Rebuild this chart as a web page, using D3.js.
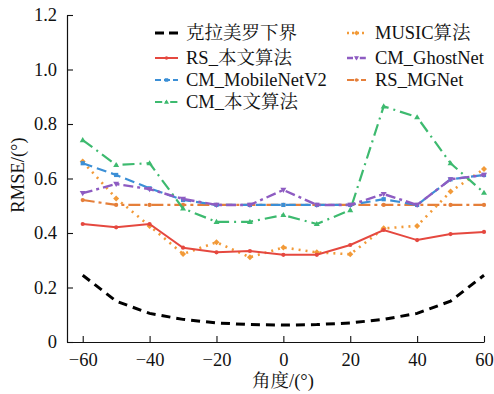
<!DOCTYPE html>
<html><head><meta charset="utf-8">
<script src="https://cdn.jsdelivr.net/npm/d3@7"></script>
<style>
body{margin:0;background:#fff}
text{font-family:"Liberation Serif","Times New Roman","Noto Serif CJK SC","Noto Sans CJK SC",serif;fill:#111}
</style></head>
<body><svg id="c" width="494" height="394"></svg>
<script>
const angles = [-60,-50,-40,-30,-20,-10,0,10,20,30,40,50,60];
const xTicks = [-60,-40,-20,0,20,40,60];
const yTicks = [0,0.2,0.4,0.6,0.8,1.0,1.2];
const yTickLabels = ["0","0.2","0.4","0.6","0.8","1.0","1.2"];
const crb      = [0.245,0.15,0.105,0.083,0.07,0.064,0.062,0.064,0.07,0.083,0.105,0.15,0.245];
const rsOurs   = [0.433,0.421,0.433,0.346,0.329,0.334,0.320,0.320,0.356,0.411,0.374,0.396,0.404];
const cmMobile = [0.656,0.613,0.564,0.521,0.503,0.503,0.503,0.503,0.503,0.524,0.503,0.597,0.613];
const cmOurs   = [0.741,0.650,0.656,0.490,0.441,0.441,0.466,0.433,0.484,0.865,0.825,0.656,0.548];
const music    = [0.662,0.527,0.426,0.323,0.366,0.311,0.347,0.329,0.322,0.417,0.426,0.552,0.635];
const cmGhost  = [0.546,0.580,0.561,0.525,0.503,0.503,0.558,0.503,0.503,0.543,0.503,0.597,0.613];
const rsMG     = [0.521,0.503,0.503,0.503,0.503,0.503,0.503,0.503,0.503,0.503,0.503,0.503,0.503];
const seriesNames = ["克拉美罗下界","RS_本文算法","CM_MobileNetV2","CM_本文算法","MUSIC算法","CM_GhostNet","RS_MGNet"];

const series = [
 {name:seriesNames[0], v:crb, color:"#000", dash:"9,6", w:3, marker:null},
 {name:seriesNames[1], v:rsOurs, color:"#e5483f", dash:null, w:2, marker:"circle"},
 {name:seriesNames[2], v:cmMobile, color:"#3b8fd6", dash:"10,5", w:2.2, marker:"square"},
 {name:seriesNames[3], v:cmOurs, color:"#3dba6f", dash:"12,5,2,5", w:2.2, marker:"tri"},
 {name:seriesNames[4], v:music, color:"#f29a38", dash:"2,5", w:2.6, marker:"diamond"},
 {name:seriesNames[5], v:cmGhost, color:"#8e5cc2", dash:"10,4,3,4", w:2.4, marker:"tridown"},
 {name:seriesNames[6], v:rsMG, color:"#e57f3a", dash:"12,4,3,4", w:2.2, marker:"circle"}
];

const FS = "18.5px";
const svg = d3.select("#c");
const x = d3.scaleLinear().domain([-64.7,60]).range([67,484]);
const y = d3.scaleLinear().domain([0,1.2]).range([342,15]);

// axes
const xAxis = d3.axisBottom(x).tickValues(xTicks).tickSizeInner(-6).tickSizeOuter(0)
  .tickFormat(d=>d<0?"\u2212"+Math.abs(d):d);
const gx = svg.append("g").attr("transform","translate(0,342)").call(xAxis);
gx.select(".domain").attr("stroke","#111").attr("stroke-width",1.2);
gx.selectAll(".tick line").attr("stroke","#111").attr("stroke-width",1.1);
gx.selectAll(".tick text").attr("dy",0).attr("y",24).style("font-size",FS).attr("fill","#111");

const yAxis = d3.axisLeft(y).tickValues(yTicks).tickSizeInner(-6).tickSizeOuter(0)
  .tickFormat((d,i)=>yTickLabels[i]);
const gy = svg.append("g").attr("transform","translate(67,0)").call(yAxis);
gy.select(".domain").attr("stroke","#111").attr("stroke-width",1.2);
gy.selectAll(".tick line").attr("stroke","#111").attr("stroke-width",1.1);
gy.selectAll(".tick text").attr("x",-10).style("font-size",FS).attr("fill","#111");

svg.append("text").attr("transform","translate(24,175) rotate(-90)").attr("text-anchor","middle")
  .style("font-size",FS).text("RMSE/(°)");
svg.append("text").attr("x",283).attr("y",387).attr("text-anchor","middle")
  .style("font-size",FS).text("角度/(°)");

function drawMarker(g, type, cx, cy, color, s){
  if(!type) return;
  if(type==="circle") g.append("circle").attr("cx",cx).attr("cy",cy).attr("r",s*0.7).attr("fill",color);
  else if(type==="square") g.append("rect").attr("x",cx-s*0.7).attr("y",cy-s*0.7).attr("width",s*1.4).attr("height",s*1.4).attr("fill",color);
  else if(type==="tri") g.append("path").attr("d",`M${cx},${cy-s} L${cx+s},${cy+s*0.7} L${cx-s},${cy+s*0.7}Z`).attr("fill",color);
  else if(type==="tridown") g.append("path").attr("d",`M${cx},${cy+s} L${cx+s},${cy-s*0.7} L${cx-s},${cy-s*0.7}Z`).attr("fill",color);
  else if(type==="diamond") g.append("path").attr("d",`M${cx},${cy-s} L${cx+s},${cy} L${cx},${cy+s} L${cx-s},${cy}Z`).attr("fill",color);
}

const line = d3.line().x((d,i)=>x(angles[i])).y(d=>y(d));
const drawOrder = [6,0,4,1,3,2,5];
drawOrder.forEach(k=>{
  const s = series[k];
  const g = svg.append("g");
  g.append("path").attr("d",line(s.v)).attr("fill","none").attr("stroke",s.color)
    .attr("stroke-width",s.w).attr("stroke-dasharray",s.dash);
  s.v.forEach((v,i)=>drawMarker(g,s.marker,x(angles[i]),y(v),s.color,3));
});

// legend
const legPos = [[155,33],[155,58],[155,80],[155,102],[347,33],[347,58],[347,80]];
series.forEach((s,k)=>{
  const [lx,ly] = legPos[k];
  const g = svg.append("g");
  const len = k<4?23:19;
  g.append("line").attr("x1",lx).attr("x2",lx+len).attr("y1",ly).attr("y2",ly)
    .attr("stroke",s.color).attr("stroke-width",s.w).attr("stroke-dasharray",s.dash?(k===0?"9,5":s.dash.split(",").map(v=>Math.max(2,v*0.6)).join(",")):null);
  drawMarker(g,s.marker,lx+len/2,ly,s.color,2.5);
  g.append("text").attr("x",k<4?lx+31:lx+28).attr("y",ly+6).style("font-size",FS).text(s.name);
});
</script></body></html>
